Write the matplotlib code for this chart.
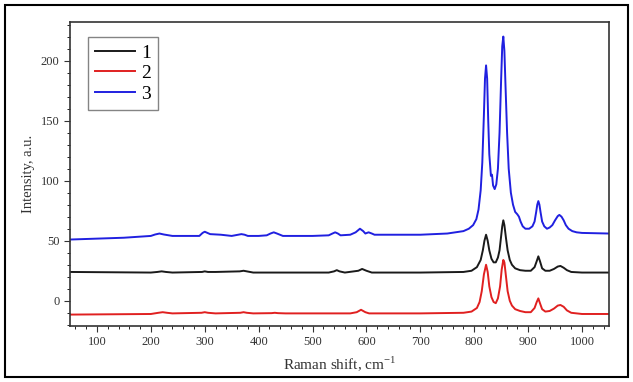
import numpy as np
import matplotlib.pyplot as plt
from matplotlib.patches import Rectangle
from matplotlib.ticker import MultipleLocator

# values
x3 = [50, 150, 200, 208, 216, 224, 240, 290, 296, 300, 305, 310, 330, 350, 362, 368, 374,
      380, 400, 415, 422, 428, 434, 445, 500, 530, 537, 542, 547, 552, 570, 580, 588, 594,
      598, 604, 610, 615, 650, 700, 750, 780, 790, 798, 804, 808, 812, 815, 818, 820, 822,
      824, 826, 828, 831, 833, 835, 838, 841, 844, 847, 850, 852, 854, 856, 858, 861, 864,
      868, 872, 876, 880, 883, 886, 890, 895, 902, 908, 912, 915, 917, 919, 921, 923, 926,
      930, 935, 940, 945, 950, 955, 958, 962, 966, 970, 975, 982, 990, 1000, 1050]
y3 = [51, 52.5, 54, 55.2, 56, 55.2, 54, 54, 56.5, 57.5, 56.5, 55.5, 55, 54, 55, 55.5, 55,
      54, 54, 54.5, 56, 57, 56, 54, 54, 54.5, 56, 57, 56, 54.5, 55, 57, 60, 58,
      56, 57, 56, 55, 55, 55, 56, 58, 60, 63, 68, 76, 92, 115, 155, 185, 196,
      185, 150, 122, 104, 105, 96, 93, 97, 110, 140, 185, 212, 220, 208, 180, 140, 110,
      90, 80, 74, 72, 70, 66, 62, 60, 60, 62, 66, 74, 80, 83, 80, 74, 66,
      62, 60, 61, 63, 67, 70.5, 71.5, 70, 67, 63, 60, 58, 57, 56.5, 56]

x1 = [50, 200, 212, 220, 228, 240, 295, 300, 306, 320, 365, 372, 378, 390, 530, 540, 545,
      550, 560, 585, 592, 600, 610, 700, 780, 795, 805, 812, 816, 819, 822, 825, 828, 832,
      836, 840, 844, 847, 850, 852, 854, 856, 859, 862, 866, 870, 876, 885, 895, 905, 912,
      916, 919, 922, 926, 932, 940, 948, 955, 960, 966, 972, 980, 1000, 1050]
y1 = [24, 23.5, 24, 24.5, 24, 23.5, 24, 24.5, 24, 24, 24.5, 25, 24.5, 23.5, 23.5, 24.5, 25.5,
      24.5, 23.5, 25, 26.5, 25, 23.5, 23.5, 24, 25, 28, 34, 42, 50, 55, 50, 42, 35,
      32, 32, 36, 42, 54, 62, 67, 63, 52, 42, 34, 30, 27, 25.5, 25, 25, 28,
      33, 37, 33, 27, 25, 25, 26.5, 28.5, 29, 27.5, 25.5, 24, 23.5, 23.5]

x2 = [50, 200, 214, 222, 230, 240, 294, 300, 306, 320, 366, 372, 378, 390, 424, 430, 436,
      450, 570, 582, 590, 598, 605, 700, 780, 795, 805, 810, 814, 818, 822, 825, 828, 832,
      836, 840, 844, 848, 851, 854, 856, 859, 862, 866, 870, 876, 885, 895, 905, 912, 916,
      919, 922, 926, 932, 940, 948, 955, 960, 966, 972, 980, 1000, 1050]
y2 = [-11.5, -11, -10, -9.5, -10, -10.5, -10, -9.5, -10, -10.5, -10, -9.5, -10, -10.5, -10.3, -10, -10.3,
      -10.5, -10.5, -9.5, -7.5, -9.5, -10.5, -10.5, -10, -9, -6, -1, 8, 22, 30, 24, 12, 3,
      -1, -2, 2, 12, 26, 34, 32, 20, 8, 0, -4, -7, -8.5, -9.5, -9.5, -6, -1,
      2, -2, -7, -9, -8.5, -6.5, -4, -3.5, -5, -8, -10, -11, -11]

labels = ["1", "2", "3"]

fig = plt.figure(figsize=(6.33, 3.82), dpi=100)
plt.rcParams['font.family'] = ['Liberation Serif', 'DejaVu Serif']
ax = fig.add_axes([0.1106, 0.1466, 0.8514, 0.7954])

ax.plot(x1, y1, color="#1a1a1a", linewidth=1.4, label=labels[0])
ax.plot(x2, y2, color="#e02020", linewidth=1.4, label=labels[1])
ax.plot(x3, y3, color="#2020e0", linewidth=1.4, label=labels[2])

ax.set_xlim(50, 1050)
ax.set_ylim(-21, 232)
ax.xaxis.set_major_locator(MultipleLocator(100))
ax.xaxis.set_minor_locator(MultipleLocator(20))
ax.yaxis.set_major_locator(MultipleLocator(50))
ax.yaxis.set_minor_locator(MultipleLocator(10))
ax.tick_params(which="major", direction="out", length=4, labelsize=9, colors="#333333")
ax.tick_params(which="minor", direction="out", length=2.5)
for s in ax.spines.values():
    s.set_linewidth(1.2)
    s.set_color("#333333")

ax.set_xlabel(r"Raman shift, cm$^{\mathregular{-1}}$", fontsize=11, color="#333333")
ax.set_ylabel("Intensity, a.u.", fontsize=10.5, color="#333333")

leg = ax.legend(loc="upper left", bbox_to_anchor=(0.033, 0.95), fontsize=14,
                fancybox=False, handlelength=2.1, handletextpad=0.3,
                labelspacing=0.15, borderpad=0.35, borderaxespad=0)
leg.get_frame().set_edgecolor("#666666")
leg.get_frame().set_linewidth(1.0)

fig.patches.append(Rectangle((0.008, 0.012), 0.984, 0.976, transform=fig.transFigure,
                             fill=False, edgecolor="black", linewidth=1.5))

fig.savefig("out.png", dpi=100)
